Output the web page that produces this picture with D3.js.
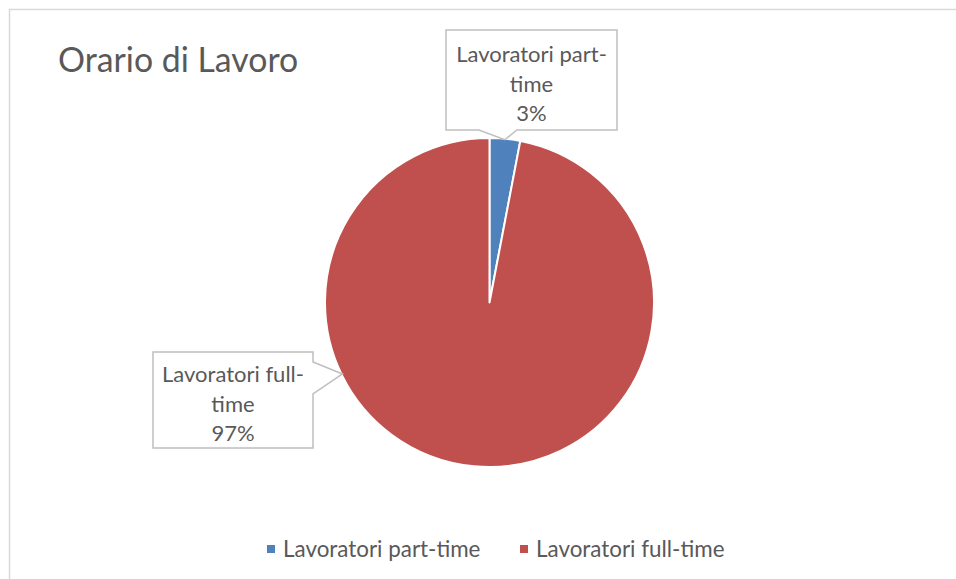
<!DOCTYPE html>
<html><head><meta charset="utf-8">
<script src="https://cdn.jsdelivr.net/npm/d3@7"></script>
<style>body{margin:0;background:#fff}svg{display:block}text{font-family:Lato,"Open Sans",sans-serif;fill:#595959}</style>
</head><body>
<script>
const title = "Orario di Lavoro";
const categories = ["Lavoratori part-time", "Lavoratori full-time"];
const values = [3, 97];
const percentLabels = ["3%", "97%"];
const labelLines = [["Lavoratori part-", "time"], ["Lavoratori full-", "time"]];
const colors = ["#4F81BD", "#C0504D"];

const W = 956, H = 579;
const svg = d3.select("body").append("svg").attr("width", W).attr("height", H);
svg.append("rect").attr("x", 9.5).attr("y", 9.5).attr("width", W).attr("height", H)
  .attr("fill", "#fff").attr("stroke", "#D9D9D9").attr("stroke-width", 1.5);

svg.append("text").attr("x", 58).attr("y", 72).attr("font-size", 33.8).text(title);

const cx = 489.5, cy = 302.5, R = 164.5;
const pie = d3.pie().sort(null).value(d => d)(values);
const arc = d3.arc().innerRadius(0).outerRadius(R);
const g = svg.append("g").attr("transform", `translate(${cx},${cy})`);
g.selectAll("path").data(pie).join("path")
  .attr("d", arc).attr("fill", (d, i) => colors[i])
  .attr("stroke", "#fff").attr("stroke-width", 2).attr("stroke-linejoin", "round");

// callouts
const boxes = [
  {x: 446, y: 30, w: 171, h: 100, side: "bottom", base: 62, angle: null},
  {x: 153, y: 352, w: 160, h: 96, side: "right", base: 382, angle: 4.26}
];
const lineH = 29.5;
pie.forEach((d, i) => {
  const b = boxes[i];
  const a = b.angle === null ? (d.startAngle + d.endAngle) / 2 : b.angle;
  const tip = [cx + (R - 1) * Math.sin(a), cy - (R - 1) * Math.cos(a)];
  let pts;
  if (b.side === "bottom") {
    pts = [[b.x, b.y], [b.x + b.w, b.y], [b.x + b.w, b.y + b.h], [tip[0] + 12, b.y + b.h], tip, [tip[0] - 26, b.y + b.h], [b.x, b.y + b.h]];
  } else {
    pts = [[b.x, b.y], [b.x + b.w, b.y], [b.x + b.w, b.y + 10], tip, [b.x + b.w, b.y + 42], [b.x + b.w, b.y + b.h], [b.x, b.y + b.h]];
  }
  svg.append("path").attr("d", d3.line()(pts) + "Z")
    .attr("fill", "#fff").attr("stroke", "#BFBFBF").attr("stroke-width", 1.5);
  const lines = labelLines[i].concat([percentLabels[i]]);
  const t = svg.append("text").attr("text-anchor", "middle").attr("font-size", 22);
  lines.forEach((l, k) => {
    t.append("tspan").attr("x", b.x + b.w / 2).attr("y", b.base + k * lineH).text(l);
  });
});

// legend
const legX = [267, 520];
categories.forEach((c, i) => {
  svg.append("rect").attr("x", legX[i]).attr("y", 545).attr("width", 8).attr("height", 8).attr("fill", colors[i]);
  svg.append("text").attr("x", legX[i] + 16).attr("y", 557).attr("font-size", 22.4).text(c);
});
</script>
</body></html>
